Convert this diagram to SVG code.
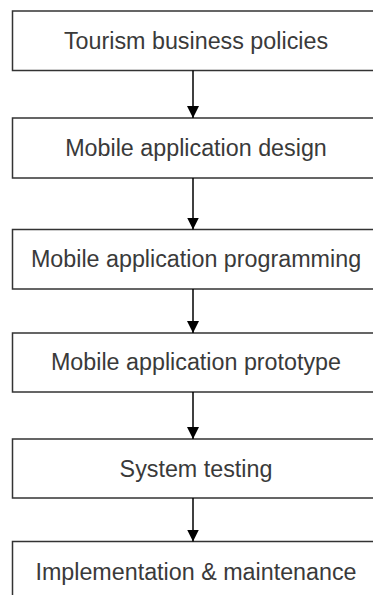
<svg xmlns="http://www.w3.org/2000/svg" width="373" height="595" viewBox="0 0 373 595">
  <style>
    .box { fill: #ffffff; stroke: #333333; stroke-width: 1.5; }
    .lbl { font-family: "Liberation Sans", Arial, sans-serif; font-size: 23.3px; fill: #3a3a3a; text-anchor: middle; }
    .conn { stroke: #000000; stroke-width: 1.5; fill: none; }
  </style>
  <defs>
    <marker id="arrow" viewBox="0 0 12 13" refX="12" refY="6" markerWidth="12" markerHeight="13" markerUnits="userSpaceOnUse" orient="auto">
      <path d="M0,0 L12,6 L0,12 Z" fill="#000000"/>
    </marker>
  </defs>
  <rect width="373" height="595" fill="#ffffff"/>
  <g id="node1">
    <rect class="box" x="12.5" y="11" width="366" height="59.5"/>
    <text class="lbl" x="196" y="49.3">Tourism business policies</text>
  </g>
  <g id="node2">
    <rect class="box" x="12.5" y="118" width="366" height="60"/>
    <text class="lbl" x="196" y="155.8">Mobile application design</text>
  </g>
  <g id="node3">
    <rect class="box" x="12.5" y="229.5" width="366" height="59.5"/>
    <text class="lbl" x="196" y="266.7">Mobile application programming</text>
  </g>
  <g id="node4">
    <rect class="box" x="12.5" y="333" width="366" height="59"/>
    <text class="lbl" x="196" y="370">Mobile application prototype</text>
  </g>
  <g id="node5">
    <rect class="box" x="12.5" y="439" width="366" height="59"/>
    <text class="lbl" x="196" y="476.5">System testing</text>
  </g>
  <g id="node6">
    <rect class="box" x="12.5" y="541.5" width="366" height="70"/>
    <text class="lbl" x="196" y="580">Implementation &amp; maintenance</text>
  </g>
  <g id="connectors">
    <line class="conn" x1="193" y1="70.5" x2="193" y2="118" marker-end="url(#arrow)"/>
    <line class="conn" x1="193" y1="178" x2="193" y2="229.5" marker-end="url(#arrow)"/>
    <line class="conn" x1="193" y1="289" x2="193" y2="333" marker-end="url(#arrow)"/>
    <line class="conn" x1="193" y1="392" x2="193" y2="439" marker-end="url(#arrow)"/>
    <line class="conn" x1="193" y1="498" x2="193" y2="541.5" marker-end="url(#arrow)"/>
  </g>
</svg>
